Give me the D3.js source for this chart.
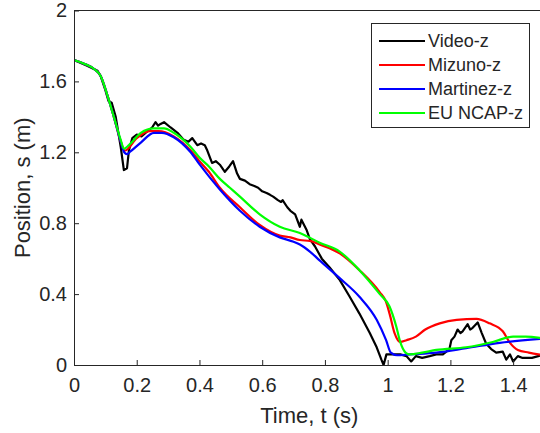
<!DOCTYPE html>
<html>
<head>
<meta charset="utf-8">
<script src="https://cdn.jsdelivr.net/npm/d3@7"></script>
<style>
  body { margin: 0; background: #fff; }
  svg text { font-family: "Liberation Sans", Arial, sans-serif; fill: #262626; }
</style>
</head>
<body>
<div class="svg-container"></div>
<script>
// values
var xTicks = [0, 0.2, 0.4, 0.6, 0.8, 1, 1.2, 1.4];
var yTicks = [0, 0.4, 0.8, 1.2, 1.6, 2];
var seriesNames = ["Video-z", "Mizuno-z", "Martinez-z", "EU NCAP-z"];
var seriesColors = ["#000000", "#ff0000", "#0000ff", "#00ff00"];

var videoT = [0, 0.04, 0.075, 0.085, 0.1, 0.11, 0.12, 0.133, 0.149, 0.159, 0.169, 0.175, 0.186, 0.2, 0.215, 0.228,
    0.249, 0.26, 0.268, 0.276, 0.287, 0.308, 0.33, 0.35, 0.365, 0.377, 0.393, 0.405, 0.417, 0.425, 0.44, 0.452,
    0.465, 0.481, 0.495, 0.507, 0.52, 0.529, 0.545, 0.56, 0.575, 0.587, 0.6, 0.614, 0.625, 0.635, 0.65, 0.66,
    0.665, 0.68, 0.69, 0.705, 0.72, 0.725, 0.742, 0.752, 0.768, 0.79, 0.815, 0.847, 0.879, 0.91, 0.943, 0.965,
    0.98, 0.987, 0.996, 1.01, 1.04, 1.06, 1.075, 1.09, 1.11, 1.134, 1.155, 1.176, 1.197, 1.203, 1.213, 1.223,
    1.232, 1.239, 1.255, 1.263, 1.271, 1.287, 1.3, 1.314, 1.33, 1.346, 1.367, 1.378, 1.39, 1.4, 1.415, 1.43,
    1.46, 1.48, 1.5];
var videoZ = [1.72, 1.69, 1.66, 1.63, 1.55, 1.49, 1.48, 1.40, 1.23, 1.10, 1.11, 1.21, 1.28, 1.30, 1.29, 1.31,
    1.34, 1.37, 1.35, 1.36, 1.37, 1.34, 1.31, 1.27, 1.26, 1.28, 1.24, 1.25, 1.24, 1.21, 1.14, 1.15,
    1.13, 1.09, 1.12, 1.15, 1.08, 1.05, 1.04, 1.02, 1.01, 1.00, 0.98, 0.97, 0.96, 0.95, 0.93, 0.92,
    0.93, 0.89, 0.87, 0.85, 0.78, 0.82, 0.76, 0.71, 0.67, 0.60, 0.55, 0.48, 0.385, 0.29, 0.18, 0.10,
    0.03, 0.0, 0.06, 0.06, 0.06, 0.05, 0.02, 0.05, 0.04, 0.05, 0.06, 0.06, 0.09, 0.14, 0.16, 0.20,
    0.18, 0.19, 0.23, 0.20, 0.21, 0.24, 0.18, 0.12, 0.09, 0.07, 0.075, 0.03, 0.06, 0.02, 0.05, 0.04,
    0.04, 0.05, 0.06];

var mizunoT = [0, 0.032, 0.064, 0.085, 0.105, 0.127, 0.149, 0.162, 0.2, 0.24, 0.27, 0.318, 0.372, 0.4, 0.43,
    0.465, 0.529, 0.592, 0.656, 0.69, 0.72, 0.752, 0.783, 0.847, 0.91, 0.975, 0.994, 1.006, 1.022, 1.04, 1.06,
    1.09, 1.12, 1.166, 1.22, 1.283, 1.325, 1.367, 1.39, 1.415, 1.45, 1.5];
var mizunoZ = [1.72, 1.70, 1.67, 1.63, 1.53, 1.40, 1.26, 1.21, 1.28, 1.32, 1.32, 1.29, 1.21, 1.15, 1.09,
    1.00, 0.89, 0.79, 0.73, 0.72, 0.705, 0.70, 0.68, 0.63, 0.535, 0.41, 0.36, 0.29, 0.18, 0.13, 0.14,
    0.16, 0.20, 0.235, 0.255, 0.26, 0.235, 0.19, 0.125, 0.085, 0.07, 0.055];

var martinezT = [0, 0.032, 0.064, 0.085, 0.105, 0.127, 0.149, 0.16, 0.169, 0.18, 0.213, 0.255, 0.28, 0.318,
    0.372, 0.401, 0.465, 0.529, 0.592, 0.656, 0.7, 0.72, 0.752, 0.783, 0.847, 0.91, 0.965, 0.995, 1.01, 1.03,
    1.07, 1.155, 1.25, 1.357, 1.5];
var martinezZ = [1.72, 1.70, 1.67, 1.63, 1.53, 1.40, 1.26, 1.20, 1.19, 1.205, 1.255, 1.31, 1.31, 1.285,
    1.20, 1.13, 0.99, 0.87, 0.78, 0.72, 0.695, 0.68, 0.64, 0.59, 0.49, 0.385, 0.255, 0.14, 0.07, 0.055,
    0.06, 0.07, 0.095, 0.125, 0.15];

var ncapT = [0, 0.032, 0.064, 0.085, 0.105, 0.127, 0.149, 0.159, 0.175, 0.213, 0.255, 0.287, 0.318, 0.372,
    0.4, 0.43, 0.465, 0.497, 0.529, 0.592, 0.656, 0.72, 0.783, 0.847, 0.91, 0.975, 1.006, 1.027, 1.04, 1.057,
    1.07, 1.11, 1.155, 1.25, 1.335, 1.4, 1.44, 1.5];
var ncapZ = [1.72, 1.70, 1.67, 1.63, 1.53, 1.40, 1.27, 1.22, 1.24, 1.31, 1.335, 1.335, 1.31, 1.23,
    1.17, 1.12, 1.05, 1.00, 0.95, 0.85, 0.78, 0.745, 0.69, 0.64, 0.535, 0.40, 0.33, 0.22, 0.13, 0.07,
    0.06, 0.07, 0.085, 0.10, 0.13, 0.16, 0.16, 0.15];

var width = 540, height = 433;
var plotLeft = 74, plotTop = 10.5, plotBottom = 365, plotRight = 544.5;

var svg = d3.select(".svg-container").append("svg")
    .attr("width", width)
    .attr("height", height);

var x = d3.scaleLinear().domain([0, 1.5]).range([plotLeft, plotRight]);
var y = d3.scaleLinear().domain([0, 2]).range([plotBottom, plotTop]);

svg.append("defs").append("clipPath").attr("id", "plot-clip")
  .append("rect")
    .attr("x", plotLeft).attr("y", plotTop)
    .attr("width", plotRight - plotLeft).attr("height", plotBottom - plotTop);

var series = [
    { t: videoT, z: videoZ, curve: d3.curveLinear },
    { t: mizunoT, z: mizunoZ, curve: d3.curveMonotoneX },
    { t: martinezT, z: martinezZ, curve: d3.curveMonotoneX },
    { t: ncapT, z: ncapZ, curve: d3.curveMonotoneX }
];

var lines = svg.append("g").attr("clip-path", "url(#plot-clip)");
series.forEach(function(s, i) {
    var line = d3.line()
        .x(function(d) { return x(d[0]); })
        .y(function(d) { return y(d[1]); })
        .curve(s.curve);
    lines.append("path")
        .datum(d3.zip(s.t, s.z))
        .attr("fill", "none")
        .attr("stroke", seriesColors[i])
        .attr("stroke-width", 2.2)
        .attr("stroke-linejoin", "round")
        .attr("d", line);
});

// axes, MATLAB style: ticks inside, box line on top
var xAxis = svg.append("g")
    .attr("transform", "translate(0," + plotBottom + ")")
    .call(d3.axisBottom(x).tickValues(xTicks).tickSizeInner(-5).tickSizeOuter(0).tickPadding(13)
        .tickFormat(d3.format("")));
var yAxis = svg.append("g")
    .attr("transform", "translate(" + plotLeft + ",0)")
    .call(d3.axisLeft(y).tickValues(yTicks).tickSizeInner(-5).tickSizeOuter(0).tickPadding(7)
        .tickFormat(d3.format("")));

[xAxis, yAxis].forEach(function(a) {
    a.select(".domain").attr("stroke", "#262626").attr("stroke-width", 1);
    a.selectAll(".tick line").attr("stroke", "#262626");
    a.selectAll(".tick text").attr("font-size", 20).attr("fill", "#262626")
        .style("font-family", "'Liberation Sans', Arial, sans-serif");
});
xAxis.selectAll(".tick text").attr("dy", "0.72em");

svg.append("line")
    .attr("x1", plotLeft).attr("x2", plotRight)
    .attr("y1", plotTop).attr("y2", plotTop)
    .attr("stroke", "#262626").attr("stroke-width", 1);

svg.append("text")
    .attr("x", (plotLeft + plotRight) / 2)
    .attr("y", 423)
    .attr("text-anchor", "middle")
    .attr("font-size", 22)
    .text("Time, t (s)");

svg.append("text")
    .attr("transform", "translate(30," + (plotTop + plotBottom) / 2 + ") rotate(-90)")
    .attr("text-anchor", "middle")
    .attr("font-size", 22)
    .text("Position, s (m)");

// legend
var legend = svg.append("g");
legend.append("rect")
    .attr("x", 371.5).attr("y", 23.5)
    .attr("width", 158).attr("height", 104)
    .attr("fill", "#fff")
    .attr("stroke", "#262626").attr("stroke-width", 1);

seriesNames.forEach(function(name, i) {
    var ly = 41 + i * 24;
    legend.append("line")
        .attr("x1", 379).attr("x2", 425)
        .attr("y1", ly).attr("y2", ly)
        .attr("stroke", seriesColors[i]).attr("stroke-width", 2.2);
    legend.append("text")
        .attr("x", 428).attr("y", ly)
        .attr("dy", "0.35em")
        .attr("font-size", 18)
        .text(name);
});
</script>
</body>
</html>
